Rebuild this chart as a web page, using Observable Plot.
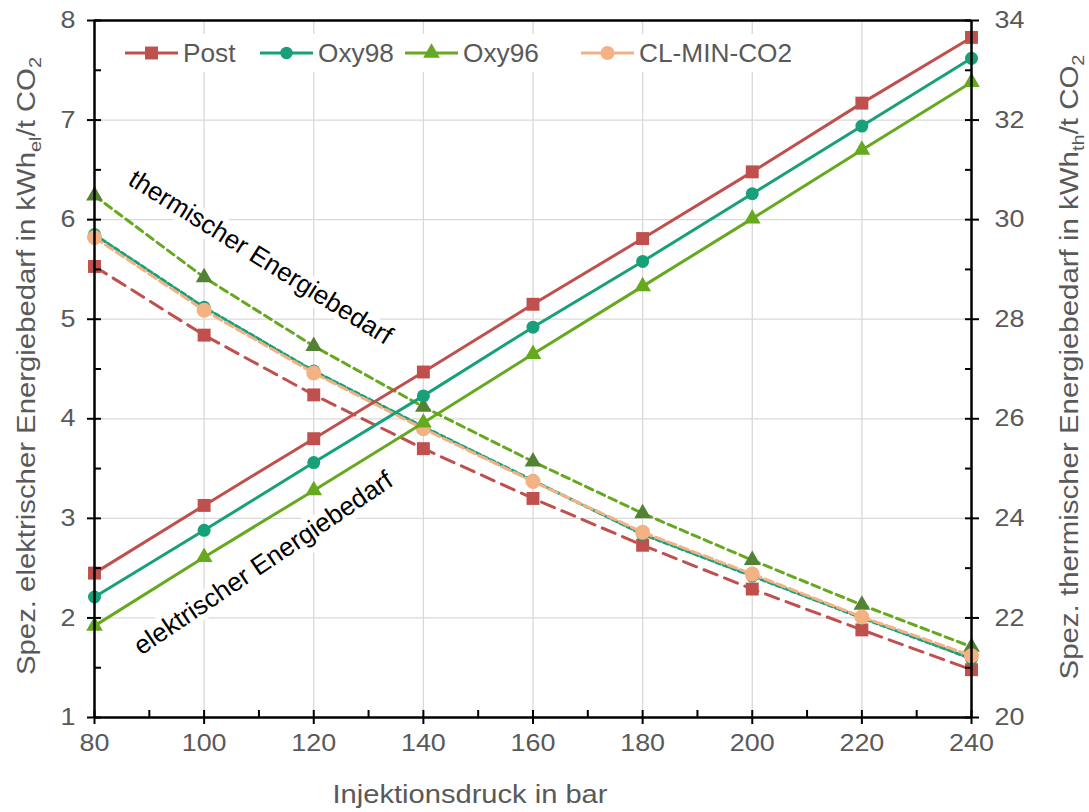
<!DOCTYPE html>
<html>
<head>
<meta charset="utf-8">
<script src="https://cdn.jsdelivr.net/npm/d3@7"></script>
<script src="https://cdn.jsdelivr.net/npm/@observablehq/plot@0.6"></script>
<style>
  html, body { margin: 0; padding: 0; background: #fff; }
  #chart { width: 1089px; height: 812px; }
  svg { font-family: "Liberation Sans", Arial, sans-serif; }
</style>
</head>
<body>
<div id="chart"></div>
<script>
// ---- data ----
const pressure = [80, 100, 120, 140, 160, 180, 200, 220, 240];
const seriesNames = ["Post", "Oxy98", "Oxy96", "CL-MIN-CO2"];
const seriesColors = ["#c0504d", "#17a07a", "#66a81e", "#f4b183"];
const markerColorsTh = ["#c0504d", "#17a07a", "#548235", "#f4b183"];

// electrical demand, kWh_el / t CO2 (left axis)
const elPost  = [2.45, 3.13, 3.80, 4.47, 5.15, 5.81, 6.48, 7.17, 7.83];
const elOxy98 = [2.21, 2.88, 3.56, 4.23, 4.92, 5.58, 6.26, 6.94, 7.62];
const elOxy96 = [1.92, 2.61, 3.28, 3.96, 4.65, 5.33, 6.01, 6.70, 7.38];

// thermal demand, kWh_th / t CO2 (right axis)
const thPost  = [29.06, 27.68, 26.48, 25.40, 24.40, 23.46, 22.58, 21.76, 20.96];
const thOxy98 = [29.70, 28.24, 26.96, 25.84, 24.76, 23.68, 22.84, 22.00, 21.18];
const thOxy96 = [30.48, 28.84, 27.46, 26.24, 25.14, 24.10, 23.16, 22.26, 21.42];
const thCL    = [29.64, 28.18, 26.92, 25.80, 24.74, 23.72, 22.88, 22.02, 21.24];

const leftTicks = [1, 2, 3, 4, 5, 6, 7, 8];
const rightTicks = [20, 22, 24, 26, 28, 30, 32, 34];
const xTicks = [80, 100, 120, 140, 160, 180, 200, 220, 240];
const xMinor = [90, 110, 130, 150, 170, 190, 210, 230];
const yMinorAll = [1, 1.5, 2, 2.5, 3, 3.5, 4, 4.5, 5, 5.5, 6, 6.5, 7, 7.5, 8];

const annotations = [
  {p: 110.3, v: 5.62, label: "thermischer Energiebedarf", angle: 32, len: 305},
  {p: 110.8, v: 2.55, label: "elektrischer Energiebedarf", angle: -34, len: 306}
];

// ---- helpers ----
const toLeft = r => 1 + (r - 20) / 2; // map right axis value to left axis scale

const elData = [elPost, elOxy98, elOxy96];
const thData = [thPost, thOxy98, thOxy96, thCL];

const elRows = elData.flatMap((arr, s) => arr.map((v, i) => ({p: pressure[i], v, s})));
const thRows = thData.flatMap((arr, s) => arr.map((r, i) => ({p: pressure[i], v: toLeft(r), s})));

const dashes = ["14,8", "5,3", "8,5", "9,4"];
const symbolsEl = ["square", "circle", "triangle"];
const sizeR = {square: 7.3, circle: 6.5, triangle: 6.2};

const marks = [
  Plot.gridX(xTicks.slice(1, -1), {stroke: "#d9d9d9", strokeOpacity: 1, strokeWidth: 1.3}),
  Plot.gridY(leftTicks.slice(1, -1), {stroke: "#d9d9d9", strokeOpacity: 1, strokeWidth: 1.3}),
  Plot.text(annotations, {
    x: "p", y: "v", text: "label", rotate: (d) => d.angle,
    fontSize: 26, fill: "black", stroke: "white", strokeWidth: 12,
    fontFamily: "Liberation Sans, Arial, sans-serif"
  })
];

// thermal dashed lines (right axis values mapped)
thData.forEach((arr, s) => {
  const rows = thRows.filter(d => d.s === s);
  marks.push(Plot.line(rows, {x: "p", y: "v", stroke: seriesColors[s], strokeWidth: 3, strokeDasharray: dashes[s]}));
  const sym = s === 0 ? "square" : s === 2 ? "triangle" : "circle";
  marks.push(Plot.dot(rows, {x: "p", y: "v", symbol: sym, r: s === 3 ? 7.5 : sizeR[sym], fill: markerColorsTh[s], stroke: "none"}));
});

// electrical solid lines
elData.forEach((arr, s) => {
  const rows = elRows.filter(d => d.s === s);
  marks.push(Plot.line(rows, {x: "p", y: "v", stroke: seriesColors[s], strokeWidth: 3}));
  marks.push(Plot.dot(rows, {x: "p", y: "v", symbol: symbolsEl[s], r: sizeR[symbolsEl[s]], fill: seriesColors[s], stroke: "none"}));
});

// frame lines
marks.push(Plot.ruleX([80, 240], {stroke: "black", strokeWidth: 2.5}));
marks.push(Plot.ruleY([1, 8], {stroke: "black", strokeWidth: 2.5}));

// axes
marks.push(Plot.axisX({ticks: xTicks, tickSize: 7, tickPadding: 9, tickFormat: d => String(d), stroke: "black", fill: "#595959", strokeWidth: 2, label: null, fontSize: 24}));
marks.push(Plot.axisX({ticks: xTicks.concat(xMinor), tickSize: -7, tickFormat: () => "", stroke: "black", strokeWidth: 2, label: null}));
marks.push(Plot.axisY({ticks: leftTicks, tickSize: 7, tickPadding: 12, tickFormat: d => String(d), stroke: "black", fill: "#595959", strokeWidth: 2, label: null, fontSize: 24}));
marks.push(Plot.axisY({ticks: yMinorAll, tickSize: -7, tickFormat: () => "", stroke: "black", strokeWidth: 2, label: null}));
marks.push(Plot.axisY({anchor: "right", ticks: rightTicks.map(toLeft), tickFormat: (d, i) => String(rightTicks[i]), tickSize: 7, tickPadding: 16, stroke: "black", fill: "#595959", strokeWidth: 2, label: null, fontSize: 24}));
marks.push(Plot.axisY({anchor: "right", ticks: yMinorAll, tickSize: -7, tickFormat: () => "", stroke: "black", strokeWidth: 2, label: null}));

const plot = Plot.plot({
  width: 1089,
  height: 812,
  marginLeft: 94,
  marginRight: 118,
  marginTop: 20,
  marginBottom: 95,
  x: {type: "linear", domain: [80, 240]},
  y: {type: "linear", domain: [1, 8]},
  style: {fontFamily: "Liberation Sans, Arial, sans-serif", fontSize: "24px", background: "white", overflow: "visible"},
  marks
});

document.getElementById("chart").appendChild(plot);
const svg = d3.select(plot);

// widen tick labels slightly to match reference glyph proportions
svg.selectAll("g[aria-label$='tick label'] text").each(function () {
  const len = this.getComputedTextLength();
  if (len > 0) {
    d3.select(this).attr("textLength", len * 1.12).attr("lengthAdjust", "spacingAndGlyphs");
  }
});
// stretch annotation labels to the reference length
svg.selectAll("g[aria-label='text'] text").each(function (d, i) {
  if (annotations[i]) d3.select(this).attr("textLength", annotations[i].len).attr("lengthAdjust", "spacingAndGlyphs");
});

// ---- axis titles with subscripts ----
function title(parts, transform, len) {
  const t = svg.append("text")
    .attr("transform", transform)
    .attr("text-anchor", "middle")
    .attr("fill", "#595959")
    .attr("font-size", 25)
    .attr("font-family", "Liberation Sans, Arial, sans-serif");
  if (len) t.attr("textLength", len).attr("lengthAdjust", "spacingAndGlyphs");
  let shifted = false;
  parts.forEach(([txt, sub]) => {
    const ts = t.append("tspan").text(txt);
    if (sub && !shifted) { ts.attr("font-size", 17).attr("dy", 6); shifted = true; }
    else if (!sub && shifted) { ts.attr("dy", -6); shifted = false; }
    else if (sub) { ts.attr("font-size", 17); }
  });
}
title([["Spez. elektrischer Energiebedarf in kWh"], ["el", true], ["/t CO"], ["2", true]], "translate(35,366) rotate(-90)", 618);
title([["Spez. thermischer Energiebedarf in kWh"], ["th", true], ["/t CO"], ["2", true]], "translate(1078,367) rotate(-90)", 625);
title([["Injektionsdruck in bar"]], "translate(470,803)", 275);

// ---- legend ----
const lg = svg.append("g");
lg.append("rect").attr("x", 110).attr("y", 34).attr("width", 700).attr("height", 38).attr("fill", "white");
const legendX = [125, 260, 405, 581];
const legendSym = [d3.symbolSquare, d3.symbolCircle, d3.symbolTriangle, d3.symbolCircle];
const legendR = [7.3, 6.2, 6.2, 7];
seriesNames.forEach((name, i) => {
  const x0 = legendX[i], y0 = 53;
  lg.append("line").attr("x1", x0).attr("x2", x0 + 53).attr("y1", y0).attr("y2", y0)
    .attr("stroke", seriesColors[i]).attr("stroke-width", 3);
  lg.append("path").attr("transform", `translate(${x0 + 26.5},${y0})`)
    .attr("d", d3.symbol(legendSym[i], Math.PI * legendR[i] * legendR[i])())
    .attr("fill", seriesColors[i]);
  const tx = lg.append("text").attr("x", x0 + 58).attr("y", y0).attr("dy", "0.36em")
    .attr("text-anchor", "start")
    .attr("fill", "#595959").attr("font-size", 25)
    .attr("font-family", "Liberation Sans, Arial, sans-serif").text(name);
  const len = tx.node().getComputedTextLength();
  tx.attr("textLength", len * 1.05).attr("lengthAdjust", "spacingAndGlyphs");
});
</script>
</body>
</html>
